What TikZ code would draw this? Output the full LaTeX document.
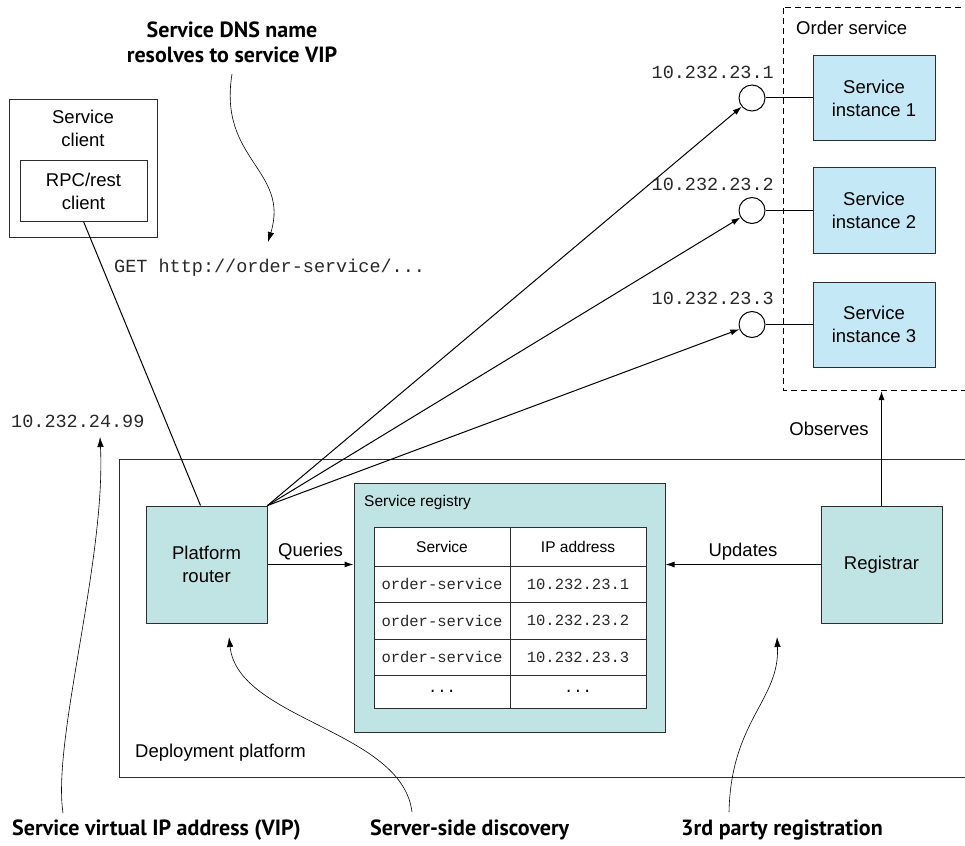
\documentclass[tikz,border=0pt]{standalone}
\usepackage{fontspec}
\setmainfont{Liberation Sans}
\setmonofont{Liberation Mono}
\newfontfamily\calloutfont{PT Sans}
\usetikzlibrary{arrows.meta}

\definecolor{platformfill}{RGB}{192,228,228}
\definecolor{instancefill}{RGB}{197,232,247}
\definecolor{edgegray}{RGB}{45,45,45}
\definecolor{monogray}{RGB}{40,40,40}
\providecommand{\sdBoxLineWidth}{1pt}
\providecommand{\sdNoteLineWidth}{0.6pt}
\providecommand{\sdSmallFont}{\fontsize{15.5}{19}\selectfont}

\tikzset{
  box/.style={draw=edgegray, line width=\sdBoxLineWidth, inner sep=0pt, align=center},
  platformbox/.style={box, fill=platformfill},
  instancebox/.style={box, fill=instancefill, minimum width=122, minimum height=85},
  cell/.style={box, fill=white, minimum width=136, font=\sdSmallFont},
  port/.style={circle, draw=black, line width=\sdBoxLineWidth, fill=white, minimum size=26, inner sep=0pt},
  ipaddr/.style={font=\ttfamily\fontsize{18.5}{23}\selectfont, text=monogray, inner sep=0pt},
  callout/.style={font=\calloutfont\bfseries\fontsize{22}{25}\selectfont, align=center, inner sep=0pt},
  pointer/.style={-{Latex[length=10pt,width=6.5pt]}, line width=\sdNoteLineWidth},
  link/.style={line width=\sdBoxLineWidth},
}

\begin{document}
\begin{tikzpicture}[x=1pt, y=-1pt, font=\fontsize{18.5}{23}\selectfont,
  >={Latex[length=9pt,width=6pt]}]
\useasboundingbox (0,0) rectangle (965,845);
% Outer frames, both run off the right edge
\draw[edgegray, line width=\sdBoxLineWidth] (119,459) rectangle (1000,777);
\draw[black, line width=\sdBoxLineWidth, dash pattern=on 6pt off 4pt] (783,8) rectangle (1000,390);
\node[anchor=west, inner sep=0pt] (deploylbl) at (135,753) {Deployment platform};
\node[anchor=west, inner sep=0pt] (orderlbl) at (796,28) {Order service};
% Client
\node[box, minimum width=148, minimum height=137] (client) at (83,168.5) {};
\node[inner sep=0pt, align=center] (clientlbl) at (83,128.5) {Service\\client};
\node[box, minimum width=127, minimum height=60] (rpc) at (83.5,191) {RPC/rest\\client};
% Platform
\node[platformbox, minimum width=121, minimum height=117] (router) at (206.5,564.5) {Platform\\router};
\node[platformbox, minimum width=121, minimum height=117] (registrar) at (881.5,564.5) {Registrar};
\node[platformbox, minimum width=311, minimum height=249] (registry) at (509.5,607.5) {};
\node[anchor=west, inner sep=0pt, font=\sdSmallFont] (registrylbl) at (364,502) {Service registry};
% Registry table
\begin{scope}[every node/.append style={cell}]
  \node[minimum height=39] (hsvc) at (442,546.5) {Service};
  \node[minimum height=39] (hip) at (578,546.5) {IP address};
  \foreach \r/\yc/\h in {1/584/36, 2/620.5/37, 3/657/36} {
    \node[minimum height=\h, font=\ttfamily\sdSmallFont, text=monogray] (svc\r) at (442,\yc) {order-service};
    \node[minimum height=\h, font=\ttfamily\sdSmallFont, text=monogray] (ip\r) at (578,\yc) {10.232.23.\r};
  }
  \node[minimum height=33, font=\ttfamily\sdSmallFont] (svc4) at (442,691.5) {...};
  \node[minimum height=33, font=\ttfamily\sdSmallFont] (ip4) at (578,691.5) {...};
\end{scope}
% Order service instances
\foreach \i/\yc in {1/98, 2/210.5, 3/324.5} {
  \node[instancebox] (inst\i) at (874,\yc) {Service\\instance \i};
  \node[port] (port\i) at (752,\yc) {};
  \node[ipaddr, anchor=east] (addr\i) at (774,\yc-26) {10.232.23.\i};
  \draw[link] (port\i) -- (inst\i);
  \draw[link, ->] (router.north east) -- (port\i);
}
% Requests
\draw[link] (rpc.south) -- ([xshift=-6pt]router.north);
\node[ipaddr, anchor=west] (getreq) at (114,268) {GET http://order-service/...};
\node[ipaddr, anchor=west] (vipaddr) at (11,421) {10.232.24.99};
\draw[link, ->] (router.east) -- node[above=4pt, inner sep=0pt] (querieslbl) {Queries} (registry.west |- router.east);
\draw[link, ->] (registrar.west) -- node[above=4pt, inner sep=0pt] (updateslbl) {Updates} (registry.east |- registrar.west);
\coordinate (obsend) at (881.5,391);
\draw[link, ->] (registrar.north) -- (obsend);
\node[inner sep=0pt] (observeslbl) at (829,429) {Observes};
% Callouts
\node[callout] (dnsnote) at (232,42) {Service DNS name\\resolves to service VIP};
\node[callout, anchor=west] (vipnote) at (12,830) {Service virtual IP address (VIP)};
\node[callout, anchor=west] (ssnote) at (370,830) {Server-side discovery};
\node[callout, anchor=west] (regnote) at (681,830) {3rd party registration};
\coordinate (dnstip) at (268,242);
\coordinate (viptip) at (100,437);
\coordinate (sstip) at (229,637);
\coordinate (regtip) at (777,637);
\draw[pointer] (232,74) .. controls (218,160) and (290,170) .. (dnstip);
\draw[pointer] (63,813) .. controls (52,740) and (106,560) .. (viptip);
\draw[pointer] (412,812) .. controls (402,730) and (238,720) .. (sstip);
\draw[pointer] (729,812) .. controls (731,720) and (780,700) .. (regtip);
\end{tikzpicture}
\end{document}
